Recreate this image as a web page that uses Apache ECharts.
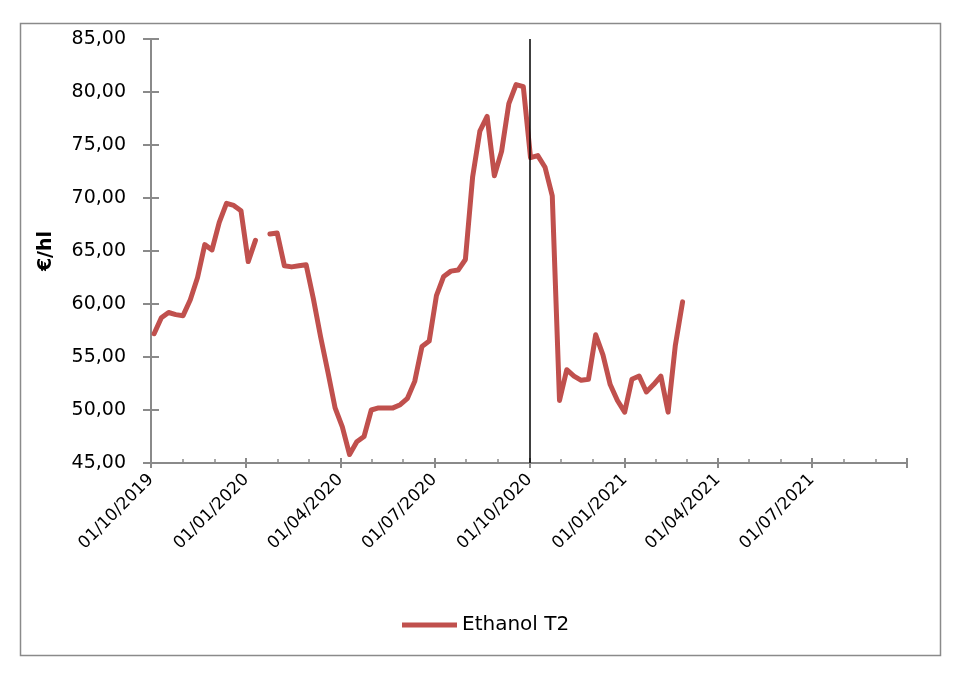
<!DOCTYPE html>
<html>
<head>
<meta charset="utf-8">
<script src="https://cdn.jsdelivr.net/npm/echarts@6/dist/echarts.min.js"></script>
<style>
  html, body { margin: 0; padding: 0; background: #fff; }
  #chart { width: 970px; height: 674px; }
</style>
</head>
<body>
<div id="chart"></div>
<script>
// weekly quotes, Ethanol T2 (€/hl)
const dates = [
  '2019-10-04', '2019-10-11', '2019-10-18', '2019-10-25', '2019-11-01', '2019-11-08', '2019-11-15',
  '2019-11-22', '2019-11-29', '2019-12-06', '2019-12-13', '2019-12-20', '2019-12-27',
  '2020-01-03', '2020-01-10', '2020-01-17', '2020-01-24', '2020-01-31',
  '2020-02-07', '2020-02-14', '2020-02-21', '2020-02-28',
  '2020-03-06', '2020-03-13', '2020-03-20', '2020-03-27',
  '2020-04-03', '2020-04-10', '2020-04-17', '2020-04-24',
  '2020-05-01', '2020-05-08', '2020-05-15', '2020-05-22', '2020-05-29',
  '2020-06-05', '2020-06-12', '2020-06-19', '2020-06-26',
  '2020-07-03', '2020-07-10', '2020-07-17', '2020-07-24', '2020-07-31',
  '2020-08-07', '2020-08-14', '2020-08-21', '2020-08-28',
  '2020-09-04', '2020-09-11', '2020-09-18', '2020-09-25',
  '2020-10-02', '2020-10-09', '2020-10-16', '2020-10-23', '2020-10-30',
  '2020-11-06', '2020-11-13', '2020-11-20', '2020-11-27',
  '2020-12-04', '2020-12-11', '2020-12-18', '2020-12-25',
  '2021-01-01', '2021-01-08', '2021-01-15', '2021-01-22', '2021-01-29',
  '2021-02-05', '2021-02-12', '2021-02-19', '2021-02-26'
];
const ethanolT2 = [
  57.2, 58.7, 59.2, 59.0, 58.9, 60.4, 62.5,
  65.6, 65.1, 67.7, 69.5, 69.3, 68.8,
  64.0, 66.0, null, 66.6, 66.7,
  63.6, 63.5, 63.6, 63.7,
  60.5, 56.9, 53.6, 50.2,
  48.4, 45.8, 47.0, 47.5,
  50.0, 50.2, 50.2, 50.2, 50.5,
  51.1, 52.7, 56.0, 56.5,
  60.8, 62.6, 63.1, 63.2, 64.2,
  72.0, 76.3, 77.7, 72.1,
  74.4, 78.9, 80.7, 80.5,
  73.8, 74.0, 72.9, 70.2, 50.9,
  53.8, 53.2, 52.8, 52.9,
  57.1, 55.2, 52.4, 50.9,
  49.8, 52.9, 53.2, 51.7, 52.4,
  53.2, 49.8, 56.1, 60.2
];
const xStart = '2019-10-01';
const xEnd = '2021-10-01';
const markerDate = '2020-10-01';
const yMin = 45;
const yMax = 85;
const yStep = 5;

const chart = echarts.init(document.getElementById('chart'));

const axisGrey = '#8a8a8a';
const font = 'DejaVu Sans';
const xEndTime = new Date(xEnd).getTime();

const pad = n => (n < 10 ? '0' : '') + n;
const fmtDate = v => {
  const d = new Date(v);
  return pad(d.getDate()) + '/' + pad(d.getMonth() + 1) + '/' + d.getFullYear();
};

const option = {
  animation: false,
  backgroundColor: '#fff',
  textStyle: { fontFamily: font, color: '#000' },
  grid: { left: 151, right: 63, top: 39, bottom: 211 },
  graphic: [{
    type: 'rect',
    shape: { x: 20.5, y: 23.5, width: 920, height: 632 },
    style: { fill: 'none', stroke: axisGrey, lineWidth: 1.5 },
    silent: true
  }],
  legend: {
    left: 397,
    top: 610,
    icon: 'rect',
    itemWidth: 55,
    itemHeight: 5,
    itemGap: 6,
    textStyle: { fontFamily: font, fontSize: 20, color: '#000' },
    data: ['Ethanol T2']
  },
  xAxis: [
    {
      type: 'time',
      min: xStart,
      max: xEnd,
      splitNumber: 8,
      axisLine: { lineStyle: { color: axisGrey, width: 2 } },
      axisTick: { show: true, inside: true, length: 5, lineStyle: { color: axisGrey, width: 2 } },
      minorTick: { show: true, splitNumber: 3, length: 4, lineStyle: { color: axisGrey, width: 1.5 } },
      axisLabel: {
        rotate: 45,
        margin: 14,
        fontSize: 17,
        fontFamily: font,
        color: '#000',
        hideOverlap: false,
        formatter: v => (v >= xEndTime ? '' : fmtDate(v))
      },
      splitLine: { show: false }
    },
    {
      // lower half of the major ticks
      type: 'time',
      position: 'bottom',
      min: xStart,
      max: xEnd,
      splitNumber: 8,
      axisLine: { show: false },
      axisTick: { show: true, inside: false, length: 5, lineStyle: { color: axisGrey, width: 2 } },
      axisLabel: { show: false },
      splitLine: { show: false }
    }
  ],
  yAxis: [
    {
      type: 'value',
      min: yMin,
      max: yMax,
      interval: yStep,
      name: '€/hl',
      nameLocation: 'middle',
      nameRotate: 90,
      nameGap: 95,
      nameTextStyle: { fontFamily: font, fontSize: 19, fontWeight: 'bold', color: '#000' },
      axisLine: { show: true, lineStyle: { color: axisGrey, width: 2 } },
      axisTick: { show: true, inside: false, length: 8, lineStyle: { color: axisGrey, width: 2 } },
      axisLabel: {
        margin: 25,
        fontSize: 19,
        fontFamily: font,
        color: '#000',
        formatter: v => v.toFixed(2).replace('.', ',')
      },
      splitLine: { show: false }
    },
    {
      type: 'value',
      position: 'left',
      min: yMin,
      max: yMax,
      interval: yStep,
      axisLine: { show: false },
      axisTick: { show: true, inside: true, length: 8, lineStyle: { color: axisGrey, width: 2 } },
      axisLabel: { show: false },
      splitLine: { show: false }
    }
  ],
  series: [{
    name: 'Ethanol T2',
    type: 'line',
    data: dates.map((d, i) => [d, ethanolT2[i]]),
    connectNulls: false,
    showSymbol: false,
    symbol: 'none',
    itemStyle: { color: '#c0504d' },
    lineStyle: { color: '#c0504d', width: 5, join: 'round', cap: 'round' },
    markLine: {
      silent: true,
      symbol: ['none', 'none'],
      label: { show: false },
      lineStyle: { color: '#000', width: 1.5, type: 'solid' },
      data: [{ xAxis: markerDate }]
    }
  }]
};

chart.setOption(option);
</script>
</body>
</html>
